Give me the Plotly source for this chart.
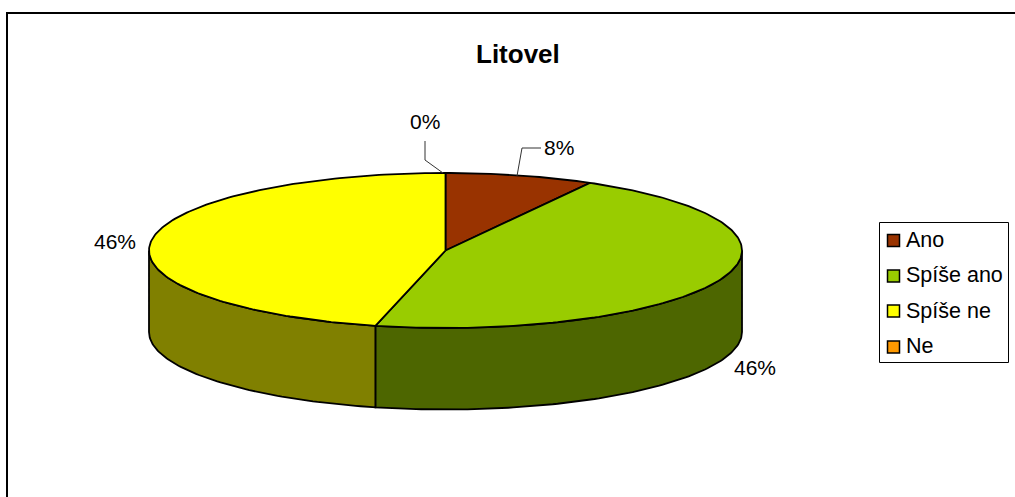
import numpy as np
import plotly.graph_objects as go

# ---- data ----
title = "Litovel"
categories = ["Ano", "Spíše ano", "Spíše ne", "Ne"]
values = [8.1, 45.7, 46.2, 0]
percent_labels = ["8%", "46%", "46%", "0%"]

# ---- style ----
colors = ["#993300", "#99CC00", "#FFFF00", "#FF9900"]
side_colors = ["#4D1A00", "#4D6600", "#808000", "#804D00"]
FONT = "Liberation Sans"
W, H = 1015, 497
CX, CY, RX, RY, DEPTH = 445.5, 250.5, 296.5, 77.5, 81.5


def rim(a0, a1, dy=0.0):
    t = np.radians(np.linspace(a0, a1, max(2, int(abs(a1 - a0)) + 2)))
    return CX + RX * np.sin(t), CY + dy - RY * np.cos(t)


fig = go.Figure()
total = sum(values)
edges = np.concatenate([[0], np.cumsum(values) / total * 360.0])


def poly(x, y, fill):
    fig.add_trace(go.Scatter(
        x=list(x), y=list(y), mode="lines", fill="toself", fillcolor=fill,
        line=dict(color="black", width=1.8), hoverinfo="skip", showlegend=False))


# visible outer walls (front half only)
for i in range(len(values)):
    a0, a1 = max(edges[i], 90.0), min(edges[i + 1], 270.0)
    if a1 > a0:
        xt, yt = rim(a0, a1)
        xb, yb = rim(a1, a0, DEPTH)
        poly(np.r_[xt, xb, xt[0]], np.r_[yt, yb, yt[0]], side_colors[i])

# top faces
for i in range(len(values)):
    if values[i] > 0:
        xt, yt = rim(edges[i], edges[i + 1])
        poly(np.r_[CX, xt, CX], np.r_[CY, yt, CY], colors[i])

# legend swatches and labels
swatch_x = 893.5
swatch_y = [240.5, 276, 311, 347]
label_x = 906
label_y = [240, 275, 311, 346]
for name, col, sy in zip(categories, colors, swatch_y):
    fig.add_trace(go.Scatter(
        x=[swatch_x], y=[sy], mode="markers", name=name,
        marker=dict(symbol="square", size=12, color=col, line=dict(color="black", width=1.5)),
        hoverinfo="skip", showlegend=False))

# percent labels: order Ano, Spíše ano, Spíše ne, Ne
label_pos = [(559, 147), (755, 367), (115, 241), (425, 121)]
annotations = [
    dict(x=x, y=y, text=t, showarrow=False, xref="x", yref="y",
         font=dict(family=FONT, size=21, color="black"))
    for t, (x, y) in zip(percent_labels, label_pos)
]
annotations += [
    dict(x=label_x, y=ly, text=name, showarrow=False, xref="x", yref="y", xanchor="left",
         xshift=-2, font=dict(family=FONT, size=21.5, color="black"))
    for name, ly in zip(categories, label_y)
]
annotations.append(dict(x=518, y=54, text=f"<b>{title}</b>", showarrow=False, xref="x", yref="y",
                        font=dict(family=FONT, size=26, color="black")))

line_k = dict(type="line", xref="x", yref="y")
frame = dict(color="black", width=2)
leader = dict(color="#333333", width=1)
shapes = [
    dict(line_k, x0=7, y0=12, x1=7, y1=H, line=frame),
    dict(line_k, x0=6, y0=13, x1=W, y1=13, line=frame),
    dict(type="rect", xref="x", yref="y", x0=879.5, y0=222.5, x1=1008.5, y1=362.5,
         line=dict(color="black", width=1), fillcolor="white", layer="below"),
    dict(type="path", xref="x", yref="y", path="M 443 173 L 425 160 L 425 141", line=leader),
    dict(type="path", xref="x", yref="y", path="M 517 176 L 522 148 L 541 148", line=leader),
]

fig.update_layout(
    width=W, height=H, margin=dict(l=0, r=0, t=0, b=0, pad=0),
    paper_bgcolor="white", plot_bgcolor="white", showlegend=False,
    xaxis=dict(range=[0, W], visible=False, fixedrange=True),
    yaxis=dict(range=[H, 0], visible=False, fixedrange=True),
    annotations=annotations, shapes=shapes,
)

fig.write_html(
    "out.html",
    config={"displayModeBar": False},
    post_script="document.body.style.margin='0';document.body.style.overflow='hidden';",
)
